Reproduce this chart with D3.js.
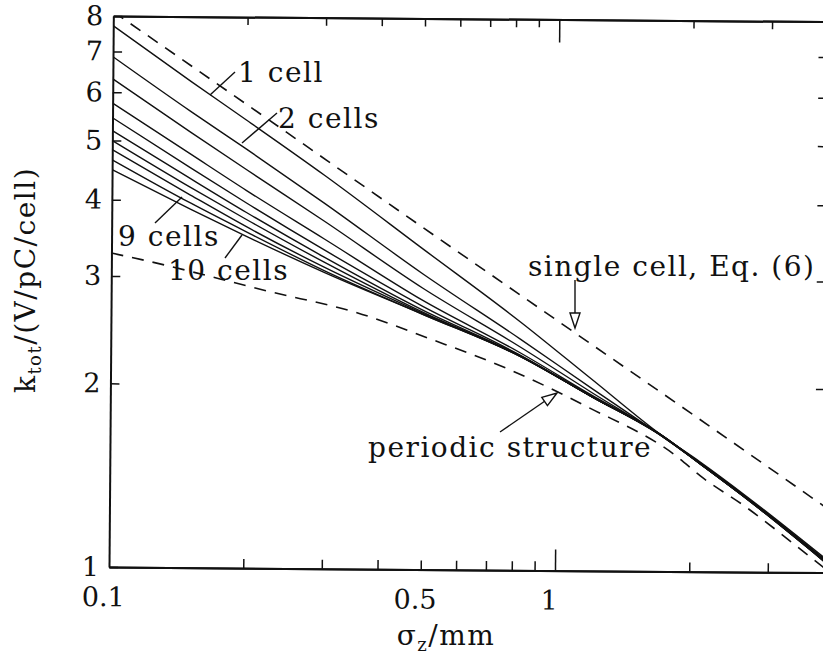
<!DOCTYPE html>
<html>
<head>
<meta charset="utf-8">
<script src="https://cdn.jsdelivr.net/npm/d3@7"></script>
<style>
  body { margin: 0; background: #fff; }
  text { font-family: "DejaVu Serif", serif; fill: #111; }
  .axis path, .axis line { stroke: #111; }
  .axis path { stroke-width: 2; }
  .axis line { stroke-width: 1.5; }
  .note { font-size: 28px; letter-spacing: 1.5px; }
</style>
</head>
<body>
<div id="chart"></div>
<script>
// sigma_z in mm where the curves were read
var sigma = [0.1, 0.15, 0.2, 0.3, 0.5, 0.83, 1.2, 1.74, 2.1, 2.7, 4.0];

// k_tot in V/pC/cell, one array per number of cells
var k1cell   = [7.71, 6.26, 5.42, 4.41, 3.35, 2.55, 2.06, 1.663, 1.515, 1.325, 1.06];
var k2cells  = [6.86, 5.59, 4.86, 3.97, 3.05, 2.39, 1.99, 1.66, 1.51, 1.32, 1.055];
var k3cells  = [6.31, 5.17, 4.50, 3.71, 2.89, 2.32, 1.96, 1.66, 1.507, 1.317, 1.05];
var k4cells  = [5.76, 4.76, 4.16, 3.47, 2.76, 2.27, 1.94, 1.665, 1.507, 1.316, 1.05];
var k5cells  = [5.45, 4.52, 3.97, 3.33, 2.70, 2.25, 1.93, 1.665, 1.506, 1.316, 1.05];
var k6cells  = [5.19, 4.34, 3.83, 3.24, 2.66, 2.245, 1.93, 1.663, 1.506, 1.315, 1.048];
var k7cells  = [5.00, 4.20, 3.73, 3.18, 2.64, 2.242, 1.93, 1.663, 1.505, 1.315, 1.047];
var k8cells  = [4.83, 4.08, 3.63, 3.12, 2.63, 2.241, 1.93, 1.663, 1.505, 1.314, 1.046];
var k9cells  = [4.65, 3.96, 3.56, 3.08, 2.62, 2.24, 1.93, 1.662, 1.504, 1.314, 1.045];
var k10cells = [4.48, 3.87, 3.50, 3.06, 2.62, 2.24, 1.93, 1.66, 1.504, 1.313, 1.045];

// dashed: single cell, Eq. (6)
var sigmaSingle = [0.1, 0.2, 0.5, 1, 2, 4];
var kSingle     = [8.13, 5.75, 3.63, 2.57, 1.82, 1.285];

// dashed: periodic structure
var sigmaPeriodic = [0.1, 0.1175, 0.227, 0.356, 0.527, 0.786, 1.171, 1.868, 2.11, 2.66, 3.67, 4.0];
var kPeriodic     = [3.27, 3.19, 2.84, 2.63, 2.38, 2.13, 1.858, 1.543, 1.435, 1.281, 1.071, 1.02];

// ticks
var xLabels = [0.1, 0.5, 1];
var xMinor = [0.2, 0.3, 0.4, 0.5, 0.6, 0.7, 0.8, 0.9, 2, 3];
var yTicks = [1, 2, 3, 4, 5, 6, 7, 8];

(function() {
    var margin = { top: 16, left: 109, right: 0, bottom: 92 }
    var width = 714.5
    var height = 551

    var svg = d3.select("#chart")
                .append("svg")
                .attr("width", 823)
                .attr("height", 659)

    // the scan is turned a little clockwise
    var g = svg.append("g")
               .attr("transform", "rotate(0.45," + margin.left + "," + (margin.top + height) + ") translate(" + margin.left + "," + margin.top + ")")

    var x = d3.scaleLog().domain([0.1, 4]).range([0, width])
    var y = d3.scaleLog().domain([1, 8]).range([height, 0])

    g.append("clipPath").attr("id", "plot")
     .append("rect").attr("width", width).attr("height", height)

    // axes, ticks pointing inward
    g.append("g").attr("class", "axis").attr("transform", "translate(0," + height + ")")
     .call(d3.axisBottom(x).tickValues(xMinor).tickSize(-9).tickSizeOuter(0).tickFormat(""))
    g.append("g").attr("class", "axis").attr("transform", "translate(0," + height + ")")
     .call(d3.axisBottom(x).tickValues([1]).tickSize(-21).tickSizeOuter(0).tickFormat(""))
    var xl = g.append("g").attr("class", "axis").attr("transform", "translate(0," + height + ")")
     .call(d3.axisBottom(x).tickValues(xLabels).tickSize(0).tickPadding(20).tickFormat(d3.format("")))
    xl.select(".domain").remove()
    xl.selectAll("text").attr("font-size", 27).attr("dx", -6)

    g.append("g").attr("class", "axis")
     .call(d3.axisTop(x).tickValues(xMinor).tickSize(-8).tickSizeOuter(0).tickFormat(""))
    g.append("g").attr("class", "axis")
     .call(d3.axisTop(x).tickValues([1]).tickSize(-23).tickSizeOuter(0).tickFormat(""))

    var yl = g.append("g").attr("class", "axis")
     .call(d3.axisLeft(y).tickValues(yTicks).tickSize(-9).tickSizeOuter(0).tickPadding(10).tickFormat(d3.format("")))
    yl.selectAll("text").attr("font-size", 27)

    g.append("g").attr("class", "axis").attr("transform", "translate(" + width + ",0)")
     .call(d3.axisRight(y).tickValues(yTicks).tickSize(-9).tickSizeOuter(0).tickFormat(""))

    svg.selectAll(".axis").attr("font-family", null).attr("font-size", null)

    var line = d3.line()
                 .x(function(d) { return x(d[0]) })
                 .y(function(d) { return y(d[1]) })
                 .curve(d3.curveMonotoneX)

    var cells = [k1cell, k2cells, k3cells, k4cells, k5cells, k6cells, k7cells, k8cells, k9cells, k10cells]

    var curves = g.append("g").attr("clip-path", "url(#plot)")

    curves.selectAll(".cell")
        .data(cells)
        .enter().append("path")
        .attr("class", "cell")
        .attr("d", function(k) { return line(sigma.map(function(s, i) { return [s, k[i]] })) })
        .attr("fill", "none")
        .attr("stroke", "#111")
        .attr("stroke-width", 1.4)

    var dashed = [
        sigmaSingle.map(function(s, i) { return [s, kSingle[i]] }),
        sigmaPeriodic.map(function(s, i) { return [s, kPeriodic[i]] })
    ]

    curves.selectAll(".dash")
        .data(dashed)
        .enter().append("path")
        .attr("class", "dash")
        .attr("d", line)
        .attr("fill", "none")
        .attr("stroke", "#111")
        .attr("stroke-width", 1.6)
        .attr("stroke-dasharray", "12,9")

    // axis titles
    var yt = svg.append("text")
                .attr("transform", "translate(35,280) rotate(-90)")
                .attr("text-anchor", "middle")
                .attr("font-size", 28)
                .attr("letter-spacing", "1.5px")
    yt.append("tspan").text("k")
    yt.append("tspan").attr("font-size", 18).attr("dy", 6).text("tot")
    yt.append("tspan").attr("dy", -6).text("/(V/pC/cell)")

    var xt = svg.append("text")
                .attr("x", 446).attr("y", 645)
                .attr("text-anchor", "middle")
                .attr("font-size", 28)
                .attr("letter-spacing", "1.5px")
    xt.append("tspan").text("σ")
    xt.append("tspan").attr("font-size", 18).attr("dy", 6).text("z")
    xt.append("tspan").attr("dy", -6).text("/mm")

    // annotations (page coordinates)
    var notes = [
        { t: "1 cell", x: 238, y: 82 },
        { t: "2 cells", x: 278, y: 128 },
        { t: "9 cells", x: 118, y: 246 },
        { t: "10 cells", x: 168, y: 280 },
        { t: "single cell, Eq. (6)", x: 528, y: 276 },
        { t: "periodic structure", x: 368, y: 457 }
    ]
    svg.selectAll(".note")
        .data(notes)
        .enter().append("text")
        .attr("class", "note")
        .attr("x", function(d) { return d.x })
        .attr("y", function(d) { return d.y })
        .text(function(d) { return d.t })

    var pointers = [
        [235, 72, 210, 95],
        [277, 113, 242, 143],
        [155, 223, 182, 197],
        [225, 258, 242, 235],
        [575, 280, 575, 314],
        [500, 432, 545, 401]
    ]
    svg.selectAll(".pointer")
        .data(pointers)
        .enter().append("line")
        .attr("class", "pointer")
        .attr("x1", function(d) { return d[0] })
        .attr("y1", function(d) { return d[1] })
        .attr("x2", function(d) { return d[2] })
        .attr("y2", function(d) { return d[3] })
        .attr("stroke", "#111")
        .attr("stroke-width", 1.4)

    // hollow arrow heads
    function head(x0, y0, x1, y1) {
        var a = Math.atan2(y1 - y0, x1 - x0), L = 15, W = 5
        var bx = x1 - L * Math.cos(a), by = y1 - L * Math.sin(a)
        var px = -Math.sin(a) * W, py = Math.cos(a) * W
        return "M" + x1 + "," + y1 + "L" + (bx + px) + "," + (by + py) + "L" + (bx - px) + "," + (by - py) + "Z"
    }
    svg.append("path").attr("d", head(575, 280, 575, 328))
       .attr("fill", "#fff").attr("stroke", "#111").attr("stroke-width", 1.4)
    svg.append("path").attr("d", head(500, 432, 557, 393))
       .attr("fill", "#fff").attr("stroke", "#111").attr("stroke-width", 1.4)

})();
</script>
</body>
</html>
